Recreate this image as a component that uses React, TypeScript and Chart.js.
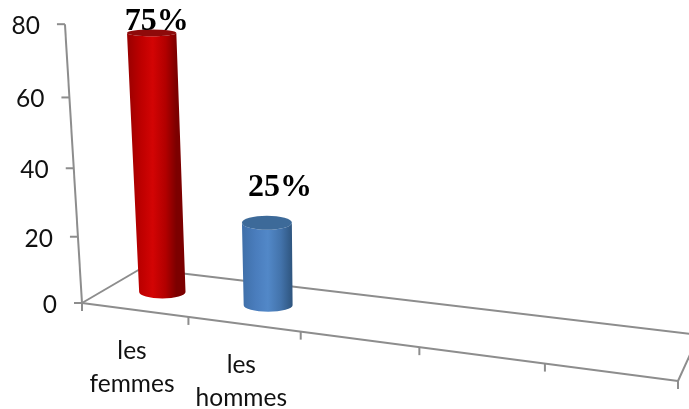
import React, { useEffect, useRef } from "react";
import { Chart, registerables } from "chart.js";

Chart.register(...registerables);

// Chart content
const categories = ["les femmes", "les hommes", "", "", ""];
const shares = [75, 25, null, null, null];
const shareLabels = ["75%", "25%"];
const axisMax = 80;
const axisStep = 20;

// Cylinder shading, left to right across the visible side
const sideStops = [
  ["#980000", "#bd0000", "#d30404", "#b20000", "#7c0000"],
  ["#3f6fa8", "#4a7dbd", "#5288c8", "#4373ab", "#2f5680"],
];
const capColors = ["#8e0a0a", "#3d6a99"];
const stopOffsets = [0, 0.28, 0.52, 0.78, 1];

// Perspective frame of the 3D floor
type Pt = { x: number; y: number };
const frontLeft: Pt = { x: 82, y: 303 };
const frontRight: Pt = { x: 678, y: 381 };
const backLeft: Pt = { x: 141, y: 268.5 };
const backRight: Pt = { x: 699, y: 335 };
const verticalVanish: Pt = { x: 329, y: 4340 };
const foreshortening = 1.15;
const riseStrength = 0.0646;
const barRiseStrength = 0.0642;
const barDepth = 0.5;

// Manual placement of the value labels relative to each cylinder's top
const labelShift = [
  { dx: 5, dy: -2.5 },
  { dx: 13, dy: -27 },
];

const lerp = (a: Pt, b: Pt, t: number): Pt => ({
  x: a.x + (b.x - a.x) * t,
  y: a.y + (b.y - a.y) * t,
});

// Floor position for a horizontal fraction u and a depth fraction d
const floorPoint = (u: number, d: number): Pt => {
  const t = u / (u + (1 - u) * foreshortening);
  return lerp(lerp(frontLeft, frontRight, t), lerp(backLeft, backRight, t), d);
};

// Lifts a floor point toward the vertical vanishing point by a height fraction
const lift = (p: Pt, frac: number, strength = riseStrength): Pt => {
  const s = 1 / (1 - frac * strength);
  return {
    x: verticalVanish.x + (p.x - verticalVanish.x) * s,
    y: verticalVanish.y + (p.y - verticalVanish.y) * s,
  };
};

const perspectivePlugin = {
  id: "perspective",
  beforeDatasetsDraw(chart: any) {
    const { ctx, chartArea, scales } = chart;
    const xs = scales.x;
    const ys = scales.y;
    const toU = (px: number) => (px - chartArea.left) / chartArea.width;
    const toFrac = (py: number) => (chartArea.bottom - py) / chartArea.height;

    ctx.save();
    ctx.strokeStyle = "#8d8d8d";
    ctx.lineWidth = 2;
    const line = (a: Pt, b: Pt) => {
      ctx.beginPath();
      ctx.moveTo(a.x, a.y);
      ctx.lineTo(b.x, b.y);
      ctx.stroke();
    };

    // Floor outline
    line(frontLeft, frontRight);
    line(frontLeft, backLeft);
    line(backLeft, backRight);
    line(frontRight, backRight);

    // Value axis, its ticks and labels
    line(lift(frontLeft, 0), lift(frontLeft, 1));
    ctx.fillStyle = "#111111";
    ctx.font = "24.5px Lato";
    ctx.textAlign = "right";
    ctx.textBaseline = "alphabetic";
    ys.ticks.forEach((tick: any) => {
      const p = lift(frontLeft, toFrac(ys.getPixelForValue(tick.value)));
      line(p, { x: p.x - 8, y: p.y });
      ctx.fillText(String(tick.value), p.x - 25, p.y + 10);
    });

    // Category ticks along the front edge
    const slots = xs.getLabels().length;
    for (let i = 0; i <= slots; i++) {
      const p = floorPoint(i / slots, 0);
      line(p, { x: p.x, y: p.y + 8 });
    }

    // Category labels step down with the front edge
    ctx.textAlign = "center";
    xs.getLabels().forEach((label: string, i: number) => {
      if (!label) return;
      const p = floorPoint(toU(xs.getPixelForValue(i)), 0);
      label.split(" ").forEach((word, row) => {
        ctx.fillText(word, p.x - 2.5, p.y + 49 + row * 33);
      });
    });
    ctx.restore();
  },
  afterDatasetsDraw(chart: any) {
    const { ctx, chartArea } = chart;
    const toU = (px: number) => (px - chartArea.left) / chartArea.width;
    const toFrac = (py: number) => (chartArea.bottom - py) / chartArea.height;

    chart.getDatasetMeta(0).data.forEach((el: any, i: number) => {
      if (shares[i] == null) return;
      const base = floorPoint(toU(el.x), barDepth);
      const edgeL = floorPoint(toU(el.x - el.width / 2), barDepth);
      const edgeR = floorPoint(toU(el.x + el.width / 2), barDepth);
      const hwBase = (edgeR.x - edgeL.x) / 2;
      const top = lift(base, toFrac(el.y), barRiseStrength);
      const hwTop = hwBase * ((top.y - verticalVanish.y) / (base.y - verticalVanish.y));
      const rimBase = 6.3;
      const rimTop = 3.5 + 3.5 * Math.min(1, (top.y - 36) / 185);

      const grad = ctx.createLinearGradient(top.x - hwTop, 0, top.x + hwTop, 0);
      sideStops[i].forEach((c, k) => grad.addColorStop(stopOffsets[k], c));

      ctx.save();
      ctx.fillStyle = grad;
      ctx.beginPath();
      ctx.moveTo(top.x - hwTop, top.y);
      ctx.lineTo(base.x - hwBase, base.y);
      ctx.ellipse(base.x, base.y, hwBase, rimBase, 0, Math.PI, 0, true);
      ctx.lineTo(top.x + hwTop, top.y);
      ctx.ellipse(top.x, top.y, hwTop, rimTop, 0, 0, Math.PI, false);
      ctx.closePath();
      ctx.fill();

      ctx.fillStyle = capColors[i];
      ctx.beginPath();
      ctx.ellipse(top.x, top.y, hwTop, rimTop, 0, 0, Math.PI * 2);
      ctx.fill();

      ctx.fillStyle = "#000000";
      ctx.font = "bold 32px 'Liberation Serif'";
      ctx.textAlign = "center";
      ctx.textBaseline = "alphabetic";
      ctx.fillText(shareLabels[i], top.x + labelShift[i].dx, top.y + labelShift[i].dy);
      ctx.restore();
    });
  },
};

export default function App() {
  const canvasRef = useRef<HTMLCanvasElement | null>(null);

  useEffect(() => {
    const canvas = canvasRef.current;
    if (!canvas) return;
    const chart = new Chart(canvas, {
      type: "bar",
      data: {
        labels: categories,
        datasets: [
          {
            data: shares,
            backgroundColor: "rgba(0,0,0,0)",
            borderWidth: 0,
            barPercentage: 0.45,
            categoryPercentage: 1,
          },
        ],
      },
      options: {
        responsive: false,
        animation: false,
        layout: { padding: { left: 82, right: 11, top: 24, bottom: 106 } },
        plugins: { legend: { display: false }, tooltip: { enabled: false } },
        scales: {
          x: { display: false },
          y: { display: false, min: 0, max: axisMax, ticks: { stepSize: axisStep } },
        },
      },
      plugins: [perspectivePlugin],
    });
    return () => chart.destroy();
  }, []);

  return (
    <div style={{ position: "absolute", left: 0, top: 0, width: 689, height: 409, background: "#ffffff" }}>
      <canvas ref={canvasRef} width={689} height={409} style={{ display: "block" }} />
    </div>
  );
}
